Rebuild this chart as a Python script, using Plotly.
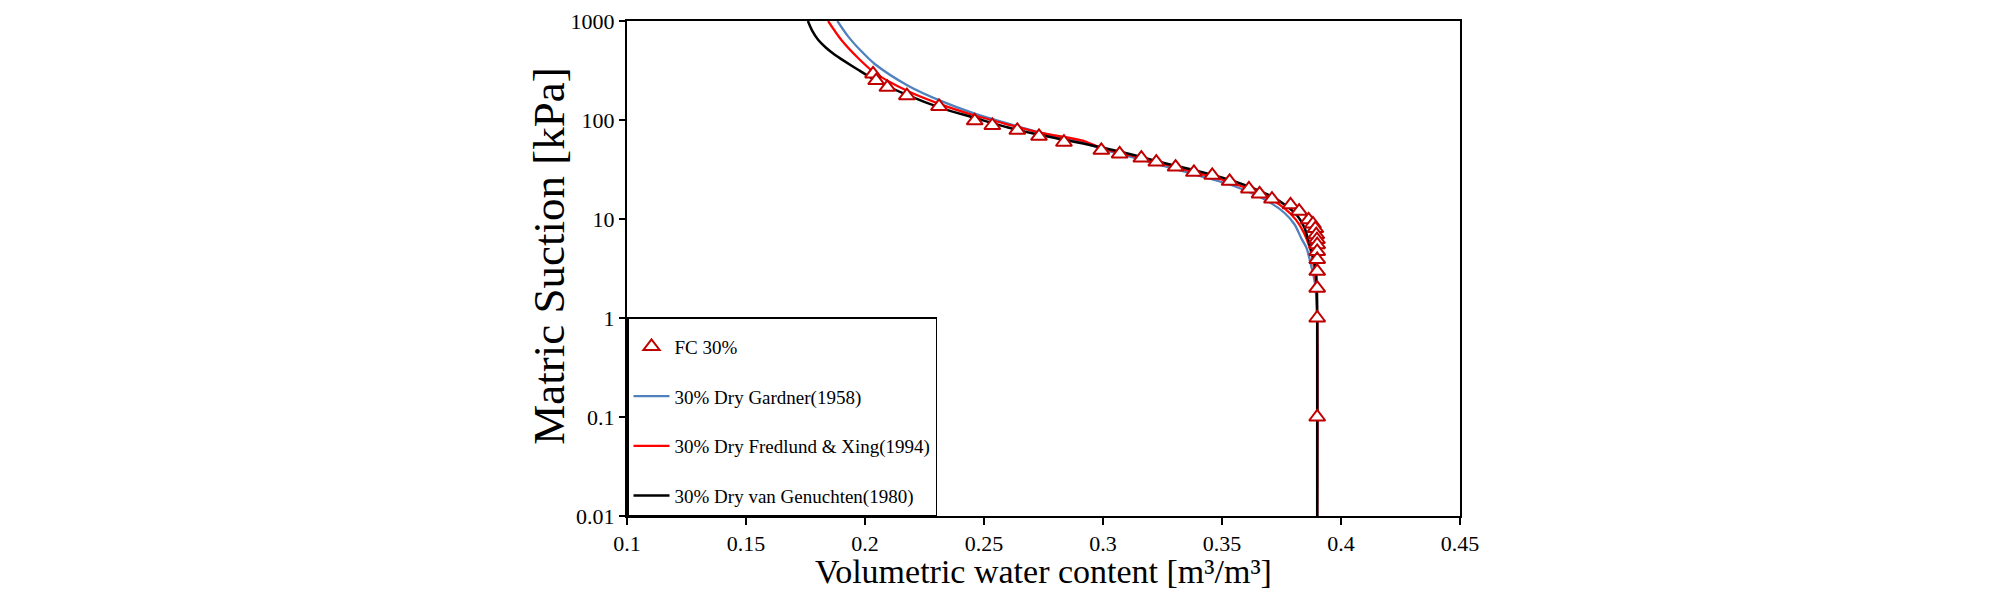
import plotly.graph_objects as go

# Measured data: FC 30%
fc_theta = [0.2034, 0.2047, 0.2094, 0.2176, 0.2311, 0.2461, 0.2535, 0.2640, 0.2731, 0.2836,
            0.2993, 0.3070, 0.3161, 0.3224, 0.3305, 0.3382, 0.3459, 0.3532, 0.3613, 0.3658,
            0.3710, 0.3788, 0.3824, 0.3864, 0.3882, 0.3892, 0.3896, 0.3899, 0.3900, 0.3900,
            0.3900, 0.3900, 0.3900, 0.3900, 0.3900]
fc_suction = [292, 250, 214, 176, 137, 98, 88, 78.7, 68.4, 59.6,
              49.4, 45.4, 41.3, 37.6, 33.5, 29.6, 27.6, 24.0, 20.1, 17.9,
              15.9, 13.9, 12.0, 9.8, 8.9, 8.0, 6.95, 6.2, 5.5, 4.7,
              3.9, 2.96, 2.0, 1.0, 0.1]

# Fitted curves
gardner_theta = [0.1884, 0.1929, 0.1985, 0.2041, 0.2181, 0.2321, 0.2461, 0.2601, 0.2741, 0.2923,
                 0.2993, 0.3133, 0.3273, 0.3413, 0.3553, 0.3693, 0.3763, 0.3805, 0.3833, 0.3855,
                 0.3877, 0.3891, 0.3900, 0.3900]
gardner_suction = [1000, 700, 494, 368, 222, 155, 116, 92, 74, 58.6,
                   51, 41.3, 33.5, 27, 21.4, 15.1, 11.5, 8.8, 6.4, 5.1,
                   3.2, 2.2, 1.0, 0.01]

fx_theta = [0.1845, 0.1900, 0.1971, 0.2041, 0.2181, 0.2321, 0.2461, 0.2601, 0.2741, 0.2923,
            0.2993, 0.3133, 0.3273, 0.3413, 0.3553, 0.3693, 0.3763, 0.3811, 0.3845, 0.3868,
            0.3882, 0.3895, 0.3900, 0.3900]
fx_suction = [1000, 647, 423, 299, 195, 143, 111, 90, 74, 61,
              52, 43, 35, 28.5, 22.8, 16.5, 12.8, 9.8, 7.2, 5.2,
              3.8, 2.3, 1.0, 0.01]

vg_theta = [0.1760, 0.1778, 0.1803, 0.1835, 0.1873, 0.1971, 0.2041, 0.2181, 0.2321, 0.2461,
            0.2601, 0.2741, 0.2853, 0.2993, 0.3133, 0.3273, 0.3413, 0.3553, 0.3693, 0.3763,
            0.3819, 0.3847, 0.3868, 0.3885, 0.3895, 0.3899, 0.3900, 0.3900]
vg_suction = [1000, 800, 647, 540, 457, 322, 255, 177, 132, 105,
              84, 70, 62, 53, 44, 36, 29.9, 24, 17.6, 14,
              10.6, 8.1, 5.5, 4.0, 2.9, 1.8, 1.0, 0.01]

x_ticks = [0.1, 0.15, 0.2, 0.25, 0.3, 0.35, 0.4, 0.45]
x_ticklabels = ["0.1", "0.15", "0.2", "0.25", "0.3", "0.35", "0.4", "0.45"]
y_ticks = [0.01, 0.1, 1, 10, 100, 1000]
y_ticklabels = ["0.01", "0.1", "1", "10", "100", "1000"]

x_title = "Volumetric water content [m³/m³]"
y_title = "Matric Suction [kPa]"

FONT = "Liberation Serif"

fig = go.Figure()

fig.add_trace(go.Scatter(x=gardner_theta, y=gardner_suction, mode="lines",
                         name="30% Dry Gardner(1958)", legendgroup="b", legendrank=2,
                         line=dict(color="#4f81bd", width=2.3, shape="spline", smoothing=0.8)))
fig.add_trace(go.Scatter(x=fx_theta, y=fx_suction, mode="lines",
                         name="30% Dry Fredlund & Xing(1994)", legendgroup="c", legendrank=3,
                         line=dict(color="#ff0000", width=2.3, shape="spline", smoothing=0.8)))
fig.add_trace(go.Scatter(x=vg_theta, y=vg_suction, mode="lines",
                         name="30% Dry van Genuchten(1980)", legendgroup="d", legendrank=4,
                         line=dict(color="#000000", width=2.5, shape="spline", smoothing=0.8)))
fig.add_trace(go.Scatter(x=fc_theta, y=fc_suction, mode="markers",
                         name="FC 30%", legendgroup="a", legendrank=1,
                         marker=dict(symbol="triangle-up", size=14, color="white",
                                     line=dict(color="#c00000", width=2))))

fig.update_layout(
    width=2008, height=596,
    margin=dict(l=619, r=556, t=13, b=88),
    paper_bgcolor="white", plot_bgcolor="white",
    font=dict(family=FONT, color="black", size=22),
    showlegend=True,
    legend=dict(x=0, y=0, xanchor="left", yanchor="bottom",
                bgcolor="white", bordercolor="black", borderwidth=1.5,
                font=dict(family=FONT, size=19, color="black"),
                traceorder="grouped", tracegroupgap=22,
                itemwidth=36,
                title=dict(text=" ", font=dict(family=FONT, size=7))),
    annotations=[
        dict(text=x_title, xref="paper", yref="paper", x=0.5, y=-0.112,
             xanchor="center", yanchor="middle", showarrow=False,
             font=dict(family=FONT, size=34, color="black")),
        dict(text=y_title, xref="paper", yref="paper", x=-0.093, y=0.525,
             xanchor="center", yanchor="middle", showarrow=False, textangle=-90,
             font=dict(family=FONT, size=45, color="black")),
    ],
)

fig.update_xaxes(
    range=[0.1, 0.45], tickvals=x_ticks, ticktext=x_ticklabels,
    showgrid=False, zeroline=False, automargin=False,
    showline=True, linecolor="black", linewidth=2, mirror=True,
    ticks="outside", ticklen=7, tickwidth=1.5, tickcolor="black",
    tickfont=dict(family=FONT, size=22),
)
fig.update_yaxes(
    type="log", range=[-2, 3], tickvals=y_ticks, ticktext=y_ticklabels,
    showgrid=False, zeroline=False, automargin=False,
    showline=True, linecolor="black", linewidth=2, mirror=True,
    ticks="outside", ticklen=6, tickwidth=1.5, tickcolor="black",
    tickfont=dict(family=FONT, size=22),
)

fig.write_html("out.html")
